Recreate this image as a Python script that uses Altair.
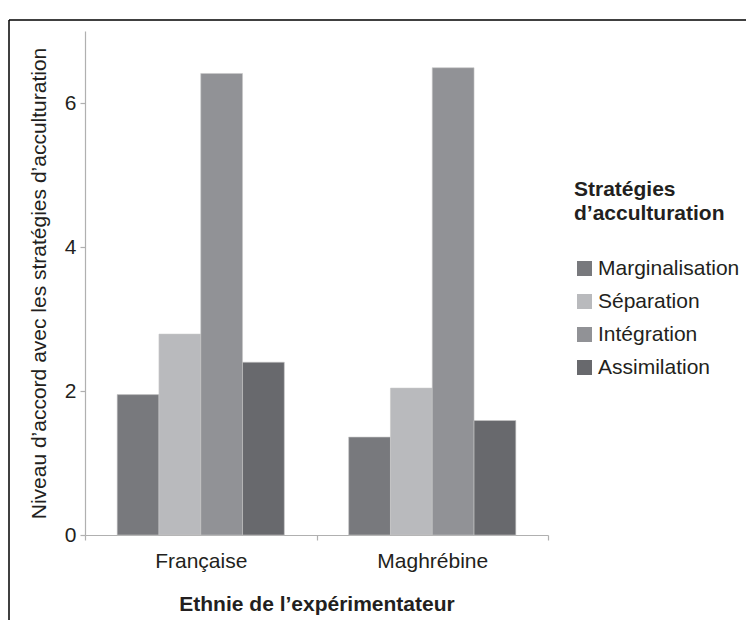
import altair as alt
import pandas as pd

groups = ["Française", "Maghrébine"]
strategies = ["Marginalisation", "Séparation", "Intégration", "Assimilation"]
values_fr = [1.95, 2.79, 6.41, 2.40]
values_ma = [1.36, 2.04, 6.49, 1.59]
colors = ["#78797d", "#b9babd", "#919296", "#68696d"]
y_ticks = [0, 2, 4, 6]

rows = []
for g, vals in zip(groups, [values_fr, values_ma]):
    for s, v in zip(strategies, vals):
        rows.append({"Ethnie": g, "Stratégie": s, "Valeur": v})
df = pd.DataFrame(rows)

FONT = "Liberation Sans"
TXT = "#231f20"
AX = "#b0b0b0"

bars = alt.Chart(df).mark_bar(stroke="#c8c8c8", strokeWidth=0.6).encode(
    x=alt.X(
        "Ethnie:N",
        sort=groups,
        scale=alt.Scale(paddingInner=0, paddingOuter=0),
        axis=alt.Axis(
            title="Ethnie de l\u2019expérimentateur",
            labelAngle=0,
            tickBand="extent",
            tickSize=5,
            labelPadding=10,
            titlePadding=22,
            titleFontWeight="bold",
        ),
    ),
    xOffset=alt.XOffset(
        "Stratégie:N",
        sort=strategies,
        scale=alt.Scale(paddingInner=0, paddingOuter=0.77),
    ),
    y=alt.Y(
        "Valeur:Q",
        scale=alt.Scale(domain=[0, 7], nice=False),
        axis=alt.Axis(
            title="Niveau d\u2019accord avec les stratégies d\u2019acculturation",
            values=y_ticks,
            grid=False,
            tickSize=5,
            labelPadding=4,
            titlePadding=15,
            titleFontWeight="normal",
        ),
    ),
    color=alt.Color(
        "Stratégie:N",
        sort=strategies,
        scale=alt.Scale(domain=strategies, range=colors),
        legend=alt.Legend(
            title=["Stratégies", "d\u2019acculturation"],
            orient="none",
            legendX=489,
            legendY=148,
            padding=0,
            symbolType="square",
            symbolSize=225,
            symbolStrokeWidth=0,
            symbolOpacity=1,
            labelOffset=3,
            rowPadding=11,
            titlePadding=34,
            titleFontSize=21,
            titleFontWeight="bold",
            titleLineHeight=24,
            labelFontSize=21,
            titleColor=TXT,
            labelColor=TXT,
            titleFont=FONT,
            labelFont=FONT,
        ),
    ),
)

frame = pd.DataFrame({"a": [0]})
border_left = alt.Chart(frame).mark_rule(color="#000000", strokeWidth=1.5).encode(
    x=alt.value(-76), y=alt.value(-11), y2=alt.value(589)
)
border_top = alt.Chart(frame).mark_rule(color="#000000", strokeWidth=1.5).encode(
    x=alt.value(-76), x2=alt.value(661), y=alt.value(-11)
)

chart = alt.layer(border_left, border_top, bars).properties(
    width=463,
    height=504,
    autosize=alt.AutoSizeParams(type="none"),
    padding={"left": 77, "top": 23, "right": 198, "bottom": 85},
).configure_view(strokeWidth=0).configure_axis(
    labelFont=FONT,
    titleFont=FONT,
    labelFontSize=21,
    titleFontSize=21,
    labelColor=TXT,
    titleColor=TXT,
    domainColor=AX,
    tickColor=AX,
    domainWidth=1.2,
    tickWidth=1.2,
)

chart.save("out.html", embed_options={"renderer": "svg", "actions": False})
